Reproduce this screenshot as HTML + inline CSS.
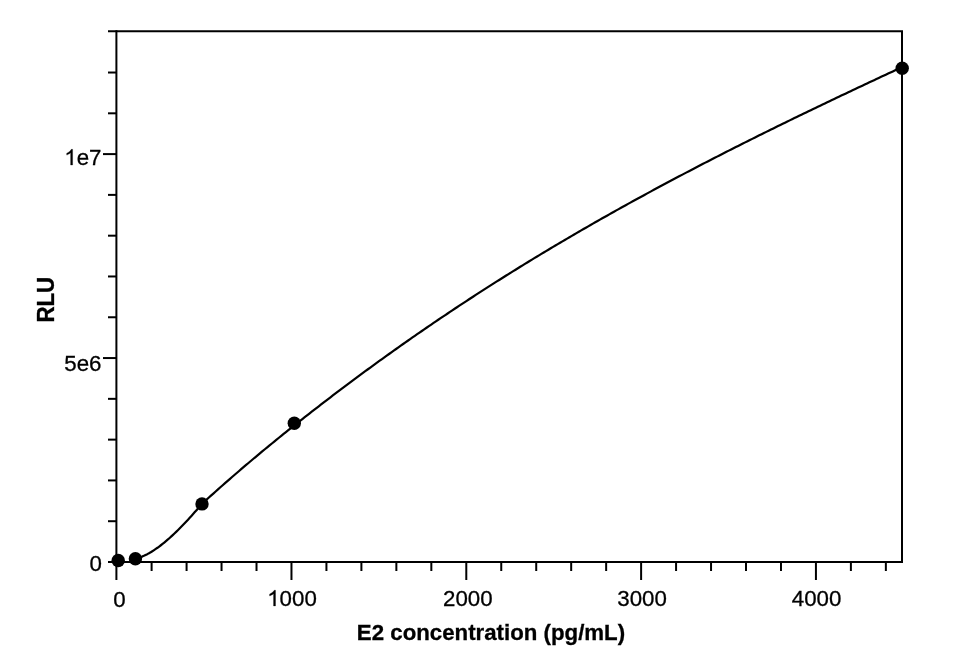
<!DOCTYPE html>
<html><head><meta charset="utf-8"><style>
html,body{margin:0;padding:0;background:#fff;width:954px;height:654px;overflow:hidden}
svg{display:block;will-change:transform}
text{font-family:"Liberation Sans",sans-serif;font-size:22.3px;fill:#000;stroke:#000;stroke-width:0.3px}
.b{font-weight:bold}
</style></head><body>
<svg width="954" height="654" viewBox="0 0 954 654">
<rect width="954" height="654" fill="#fff"/>
<g stroke="#000" stroke-linecap="butt"><line x1="108.00" y1="31.20" x2="903.00" y2="31.20" stroke-width="2.0"/><line x1="902.00" y1="31.20" x2="902.00" y2="562.00" stroke-width="2.0"/><line x1="108.00" y1="562.00" x2="903.00" y2="562.00" stroke-width="2.0"/><line x1="116.40" y1="30.20" x2="116.40" y2="580.00" stroke-width="2.0"/><line x1="108.00" y1="521.21" x2="116.40" y2="521.21" stroke-width="2.0"/><line x1="108.00" y1="480.42" x2="116.40" y2="480.42" stroke-width="2.0"/><line x1="108.00" y1="439.63" x2="116.40" y2="439.63" stroke-width="2.0"/><line x1="108.00" y1="398.84" x2="116.40" y2="398.84" stroke-width="2.0"/><line x1="103.00" y1="358.05" x2="116.40" y2="358.05" stroke-width="2.0"/><line x1="108.00" y1="317.26" x2="116.40" y2="317.26" stroke-width="2.0"/><line x1="108.00" y1="276.47" x2="116.40" y2="276.47" stroke-width="2.0"/><line x1="108.00" y1="235.68" x2="116.40" y2="235.68" stroke-width="2.0"/><line x1="108.00" y1="194.89" x2="116.40" y2="194.89" stroke-width="2.0"/><line x1="103.00" y1="154.10" x2="116.40" y2="154.10" stroke-width="2.0"/><line x1="108.00" y1="113.31" x2="116.40" y2="113.31" stroke-width="2.0"/><line x1="108.00" y1="72.52" x2="116.40" y2="72.52" stroke-width="2.0"/><line x1="151.61" y1="562.00" x2="151.61" y2="571.00" stroke-width="2.0"/><line x1="186.58" y1="562.00" x2="186.58" y2="571.00" stroke-width="2.0"/><line x1="221.54" y1="562.00" x2="221.54" y2="571.00" stroke-width="2.0"/><line x1="256.51" y1="562.00" x2="256.51" y2="571.00" stroke-width="2.0"/><line x1="291.47" y1="562.00" x2="291.47" y2="580.00" stroke-width="2.0"/><line x1="326.43" y1="562.00" x2="326.43" y2="571.00" stroke-width="2.0"/><line x1="361.40" y1="562.00" x2="361.40" y2="571.00" stroke-width="2.0"/><line x1="396.36" y1="562.00" x2="396.36" y2="571.00" stroke-width="2.0"/><line x1="431.33" y1="562.00" x2="431.33" y2="571.00" stroke-width="2.0"/><line x1="466.29" y1="562.00" x2="466.29" y2="580.00" stroke-width="2.0"/><line x1="501.25" y1="562.00" x2="501.25" y2="571.00" stroke-width="2.0"/><line x1="536.22" y1="562.00" x2="536.22" y2="571.00" stroke-width="2.0"/><line x1="571.18" y1="562.00" x2="571.18" y2="571.00" stroke-width="2.0"/><line x1="606.15" y1="562.00" x2="606.15" y2="571.00" stroke-width="2.0"/><line x1="641.11" y1="562.00" x2="641.11" y2="580.00" stroke-width="2.0"/><line x1="676.07" y1="562.00" x2="676.07" y2="571.00" stroke-width="2.0"/><line x1="711.04" y1="562.00" x2="711.04" y2="571.00" stroke-width="2.0"/><line x1="746.00" y1="562.00" x2="746.00" y2="571.00" stroke-width="2.0"/><line x1="780.97" y1="562.00" x2="780.97" y2="571.00" stroke-width="2.0"/><line x1="815.93" y1="562.00" x2="815.93" y2="580.00" stroke-width="2.0"/><line x1="850.89" y1="562.00" x2="850.89" y2="571.00" stroke-width="2.0"/><line x1="885.86" y1="562.00" x2="885.86" y2="571.00" stroke-width="2.0"/></g>
<path d="M135.40,559.08 L137.10,558.56 L138.79,557.98 L140.49,557.33 L142.19,556.62 L143.89,555.86 L145.58,555.03 L147.28,554.15 L148.98,553.22 L150.68,552.23 L152.37,551.19 L154.07,550.10 L155.77,548.96 L157.47,547.77 L159.16,546.53 L160.86,545.25 L162.56,543.93 L164.26,542.56 L165.95,541.15 L167.65,539.70 L169.35,538.21 L171.05,536.68 L172.74,535.12 L174.44,533.52 L176.14,531.89 L177.84,530.22 L179.53,528.53 L181.23,526.80 L182.93,525.05 L184.63,523.27 L186.32,521.46 L188.02,519.63 L189.72,517.78 L191.42,515.90 L193.11,514.00 L194.81,512.09 L196.51,510.16 L198.21,508.21 L199.90,506.24 L201.60,504.23 L203.94,502.05 L206.29,499.91 L208.63,497.79 L210.97,495.68 L213.32,493.57 L215.66,491.47 L218.00,489.38 L220.35,487.30 L222.69,485.23 L225.03,483.17 L227.37,481.11 L229.72,479.07 L232.06,477.03 L234.40,475.00 L236.75,472.97 L239.09,470.96 L241.43,468.95 L243.78,466.95 L246.12,464.95 L248.46,462.97 L250.81,460.99 L253.15,459.02 L255.49,457.05 L257.84,455.10 L260.18,453.15 L262.52,451.20 L264.86,449.26 L267.21,447.33 L269.55,445.41 L271.89,443.49 L274.24,441.57 L276.58,439.67 L278.92,437.77 L281.27,435.87 L283.61,433.98 L285.95,432.10 L288.30,430.22 L290.64,428.35 L292.98,426.48 L295.33,424.62 L297.67,422.76 L300.01,420.91 L302.36,419.06 L304.70,417.22 L307.04,415.38 L309.38,413.54 L311.73,411.72 L314.07,409.89 L316.41,408.07 L318.76,406.26 L321.10,404.45 L323.44,402.64 L325.79,400.84 L328.13,399.05 L330.47,397.26 L332.82,395.47 L335.16,393.69 L337.50,391.91 L339.85,390.14 L342.19,388.37 L344.53,386.61 L346.87,384.85 L349.22,383.10 L351.56,381.35 L353.90,379.61 L356.25,377.87 L358.59,376.13 L360.93,374.40 L363.28,372.68 L365.62,370.96 L367.96,369.24 L370.31,367.53 L372.65,365.82 L374.99,364.11 L377.34,362.42 L379.68,360.72 L382.02,359.03 L384.37,357.35 L386.71,355.66 L389.05,353.99 L391.39,352.31 L393.74,350.65 L396.08,348.98 L398.42,347.32 L400.77,345.67 L403.11,344.02 L405.45,342.37 L407.80,340.73 L410.14,339.09 L412.48,337.46 L414.83,335.83 L417.17,334.21 L419.51,332.59 L421.86,330.97 L424.20,329.36 L426.54,327.75 L428.88,326.15 L431.23,324.55 L433.57,322.95 L435.91,321.36 L438.26,319.77 L440.60,318.19 L442.94,316.61 L445.29,315.04 L447.63,313.47 L449.97,311.90 L452.32,310.34 L454.66,308.78 L457.00,307.23 L459.35,305.68 L461.69,304.14 L464.03,302.59 L466.38,301.06 L468.72,299.52 L471.06,297.99 L473.40,296.47 L475.75,294.95 L478.09,293.43 L480.43,291.92 L482.78,290.41 L485.12,288.90 L487.46,287.40 L489.81,285.90 L492.15,284.41 L494.49,282.92 L496.84,281.43 L499.18,279.95 L501.52,278.47 L503.87,277.00 L506.21,275.53 L508.55,274.06 L510.89,272.60 L513.24,271.14 L515.58,269.69 L517.92,268.23 L520.27,266.79 L522.61,265.34 L524.95,263.90 L527.30,262.47 L529.64,261.03 L531.98,259.60 L534.33,258.18 L536.67,256.75 L539.01,255.34 L541.36,253.92 L543.70,252.51 L546.04,251.10 L548.39,249.70 L550.73,248.30 L553.07,246.90 L555.41,245.50 L557.76,244.11 L560.10,242.73 L562.44,241.34 L564.79,239.96 L567.13,238.59 L569.47,237.21 L571.82,235.84 L574.16,234.47 L576.50,233.11 L578.85,231.75 L581.19,230.39 L583.53,229.04 L585.88,227.69 L588.22,226.34 L590.56,225.00 L592.91,223.65 L595.25,222.32 L597.59,220.98 L599.93,219.65 L602.28,218.32 L604.62,217.00 L606.96,215.67 L609.31,214.35 L611.65,213.04 L613.99,211.72 L616.34,210.41 L618.68,209.10 L621.02,207.80 L623.37,206.50 L625.71,205.20 L628.05,203.90 L630.40,202.61 L632.74,201.32 L635.08,200.03 L637.42,198.75 L639.77,197.46 L642.11,196.19 L644.45,194.91 L646.80,193.64 L649.14,192.36 L651.48,191.10 L653.83,189.83 L656.17,188.57 L658.51,187.31 L660.86,186.05 L663.20,184.79 L665.54,183.54 L667.89,182.29 L670.23,181.05 L672.57,179.80 L674.92,178.56 L677.26,177.32 L679.60,176.08 L681.94,174.85 L684.29,173.61 L686.63,172.38 L688.97,171.16 L691.32,169.93 L693.66,168.71 L696.00,167.49 L698.35,166.27 L700.69,165.06 L703.03,163.84 L705.38,162.63 L707.72,161.42 L710.06,160.21 L712.41,159.01 L714.75,157.81 L717.09,156.61 L719.43,155.41 L721.78,154.21 L724.12,153.02 L726.46,151.83 L728.81,150.64 L731.15,149.45 L733.49,148.27 L735.84,147.08 L738.18,145.90 L740.52,144.72 L742.87,143.55 L745.21,142.37 L747.55,141.20 L749.90,140.03 L752.24,138.86 L754.58,137.69 L756.93,136.52 L759.27,135.36 L761.61,134.20 L763.95,133.04 L766.30,131.88 L768.64,130.72 L770.98,129.56 L773.33,128.41 L775.67,127.26 L778.01,126.11 L780.36,124.96 L782.70,123.81 L785.04,122.67 L787.39,121.52 L789.73,120.38 L792.07,119.24 L794.42,118.10 L796.76,116.97 L799.10,115.83 L801.44,114.69 L803.79,113.56 L806.13,112.43 L808.47,111.30 L810.82,110.17 L813.16,109.04 L815.50,107.92 L817.85,106.79 L820.19,105.67 L822.53,104.55 L824.88,103.43 L827.22,102.31 L829.56,101.19 L831.91,100.07 L834.25,98.96 L836.59,97.84 L838.94,96.73 L841.28,95.61 L843.62,94.50 L845.96,93.39 L848.31,92.28 L850.65,91.18 L852.99,90.07 L855.34,88.96 L857.68,87.86 L860.02,86.75 L862.37,85.65 L864.71,84.55 L867.05,83.45 L869.40,82.35 L871.74,81.25 L874.08,80.15 L876.43,79.05 L878.77,77.96 L881.11,76.86 L883.45,75.77 L885.80,74.67 L888.14,73.58 L890.48,72.49 L892.83,71.39 L895.17,70.30 L897.51,69.21 L899.86,68.12 L902.20,67.03" fill="none" stroke="#000" stroke-width="2.2" stroke-linejoin="round"/>
<g fill="#000"><circle cx="118.2" cy="560.5" r="6.7"/><circle cx="135.4" cy="558.7" r="6.7"/><circle cx="202" cy="503.9" r="6.7"/><circle cx="294.3" cy="423.3" r="6.7"/><circle cx="902.2" cy="68.3" r="6.7"/></g>
<text transform="translate(101.9,570.6) scale(1,1.02)" text-anchor="end" >0</text><text transform="translate(101.5,370.8) scale(1,1.02)" text-anchor="end" >5e6</text><path transform="translate(64.29,165.0) scale(0.010889,-0.010675)" d="M763 0H583V1147Q518 1085 413 1023T223 930V1104Q374 1175 487 1276T647 1466H763Z" fill="#000" stroke="#000" stroke-width="0.3" vector-effect="non-scaling-stroke"/><text transform="translate(76.7,165.0) scale(1,1.02)" text-anchor="start" >e7</text><text transform="translate(119.5,606.8) scale(1,1.02)" text-anchor="middle" >0</text><path transform="translate(267.20,605.9) scale(0.010889,-0.010675)" d="M763 0H583V1147Q518 1085 413 1023T223 930V1104Q374 1175 487 1276T647 1466H763Z" fill="#000" stroke="#000" stroke-width="0.3" vector-effect="non-scaling-stroke"/><text transform="translate(279.6,605.9) scale(1,1.02)" text-anchor="start" >000</text><text transform="translate(467.8,605.8) scale(1,1.02)" text-anchor="middle" >2000</text><text transform="translate(642.1,605.8) scale(1,1.02)" text-anchor="middle" >3000</text><text transform="translate(816.6,605.8) scale(1,1.02)" text-anchor="middle" >4000</text>
<text class="b" transform="translate(491.0,640.4) scale(0.998,1.03)" text-anchor="middle">E2 concentration (pg/mL)</text>
<text class="b" transform="translate(53.7,299.7) rotate(-90) scale(1,1.06)" text-anchor="middle">RLU</text>
</svg>
</body></html>
